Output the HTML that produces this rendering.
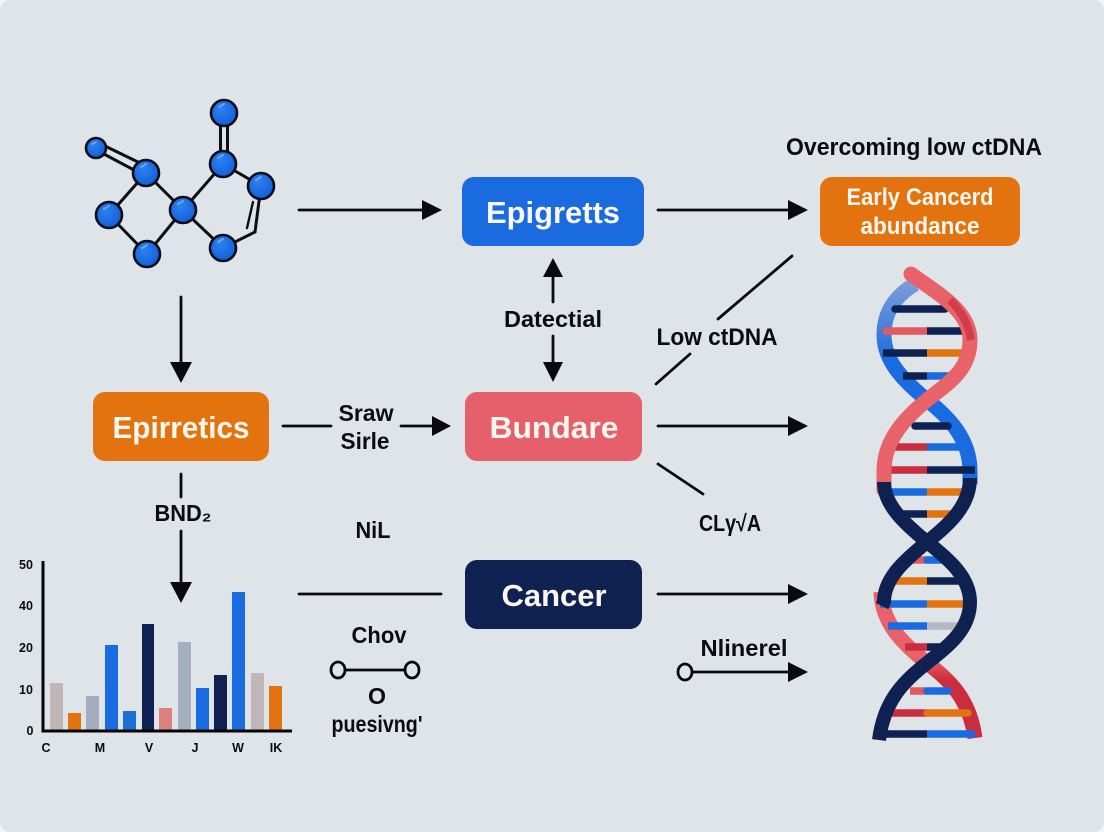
<!DOCTYPE html>
<html><head><meta charset="utf-8"><style>
html,body{margin:0;padding:0;background:#f4f5f6}
svg{display:block}
text{font-family:"Liberation Sans",sans-serif;font-weight:bold;fill:#0c0c10;text-anchor:middle}
.w{fill:#fbf6ee}
</style></head><body>
<svg width="1104" height="832" viewBox="0 0 1104 832" xmlns="http://www.w3.org/2000/svg">
<defs>
<linearGradient id="blueS" gradientUnits="userSpaceOnUse" x1="0" y1="280" x2="0" y2="480"><stop offset="0" stop-color="#7f9fd8"/><stop offset="0.2" stop-color="#4f86dc"/><stop offset="0.4" stop-color="#1b6be0"/><stop offset="1" stop-color="#1b6be0"/></linearGradient>
<linearGradient id="redB" gradientUnits="userSpaceOnUse" x1="0" y1="590" x2="0" y2="740"><stop offset="0" stop-color="#e8626a"/><stop offset="0.45" stop-color="#e8626a"/><stop offset="0.6" stop-color="#c92d3e"/><stop offset="1" stop-color="#c92d3e"/></linearGradient>
<radialGradient id="atom" cx="40%" cy="35%" r="65%"><stop offset="0" stop-color="#2f80ee"/><stop offset="1" stop-color="#1060dc"/></radialGradient>
</defs>
<rect x="0" y="0" width="1104" height="832" rx="10" fill="#dfe4e8"/>

<!-- molecule -->
<g stroke="#0c0f14" stroke-width="3" fill="none" stroke-linecap="round">
<path d="M146 173L109 215L147 254L183 210L146 173M183 210L223 164L261 186M183 210L223 248L255 232L261 186"/>
<path d="M105 146L140 163M102 153L134 170"/>
<path d="M220.5 122V156M227.5 122V156"/>
<path d="M253 202L247 228" stroke-width="2.4"/>
</g>
<g stroke="#0a0f1a" stroke-width="2.6" fill="url(#atom)">
<circle cx="96" cy="148" r="10"/><circle cx="146" cy="173" r="13"/><circle cx="109" cy="215" r="13"/>
<circle cx="147" cy="254" r="13"/><circle cx="183" cy="210" r="13"/><circle cx="223" cy="164" r="13"/>
<circle cx="224" cy="113" r="13"/><circle cx="261" cy="186" r="13"/><circle cx="223" cy="248" r="13"/>
</g>
<g stroke="#7fb0f4" stroke-width="2" fill="none" stroke-linecap="round" opacity=".8">
<path d="M92 144l4-2M141 167l5-3M104 209l5-3M142 248l5-3M178 204l5-3M218 158l5-3M219 107l5-3M256 180l5-3M218 242l5-3"/>
</g>

<!-- boxes -->
<rect x="462" y="177" width="182" height="69" rx="12" fill="#1a6be0"/>
<rect x="820" y="177" width="200" height="69" rx="12" fill="#e3730f"/>
<rect x="93" y="392" width="176" height="69" rx="12" fill="#e3730f"/>
<rect x="465" y="392" width="177" height="69" rx="12" fill="#e5606a"/>
<rect x="465" y="560" width="177" height="69" rx="12" fill="#0f2150"/>
<text class="w" x="553" y="223" font-size="31" textLength="134" lengthAdjust="spacingAndGlyphs">Epigretts</text>
<text class="w" x="181" y="438" font-size="31" textLength="137" lengthAdjust="spacingAndGlyphs">Epirretics</text>
<text class="w" x="554" y="438" font-size="31" textLength="129" lengthAdjust="spacingAndGlyphs">Bundare</text>
<text class="w" x="554" y="606" font-size="31" textLength="105" lengthAdjust="spacingAndGlyphs">Cancer</text>
<text class="w" x="920" y="205" font-size="24" textLength="147" lengthAdjust="spacingAndGlyphs">Early Cancerd</text>
<text class="w" x="920" y="234" font-size="24" textLength="119" lengthAdjust="spacingAndGlyphs">abundance</text>

<!-- connectors -->
<g stroke="#0a0a0e" stroke-width="2.8" fill="none" stroke-linecap="round">
<path d="M299 210H425M658 210H792M181 297V366M283 426H331M401 426H435M553 274V302M553 336V365M658 426H792M181 474V497M181 531V585M299 594H441M658 594H792M692 672H792"/>
<path d="M656 384L690 354M718 319L792 256M658 464L703 494"/>
<path d="M345 670H405"/>
</g>
<g fill="#0a0a0e">
<path d="M422 200L442 210L422 220Z"/><path d="M788 200L808 210L788 220Z"/>
<path d="M170 362L192 362L181 383Z"/><path d="M432 416L451 426L432 436Z"/>
<path d="M543 277L553 258L563 277Z"/><path d="M543 362L563 362L553 382Z"/>
<path d="M788 416L808 426L788 436Z"/><path d="M170 582L192 582L181 603Z"/>
<path d="M788 584L808 594L788 604Z"/><path d="M788 662L808 672L788 682Z"/>
</g>
<g fill="none" stroke="#0a0a0e" stroke-width="2.8">
<ellipse cx="338" cy="670" rx="7" ry="8"/><ellipse cx="412" cy="670" rx="7" ry="8"/>
<ellipse cx="685" cy="672" rx="7" ry="8"/>
</g>

<!-- labels -->
<text x="914" y="155" font-size="24" textLength="256" lengthAdjust="spacingAndGlyphs">Overcoming low ctDNA</text>
<text x="553" y="327" font-size="23" textLength="98" lengthAdjust="spacingAndGlyphs">Datectial</text>
<text x="717" y="345" font-size="24" textLength="121" lengthAdjust="spacingAndGlyphs">Low ctDNA</text>
<text x="366" y="421" font-size="23" textLength="55" lengthAdjust="spacingAndGlyphs">Sraw</text>
<text x="365" y="449" font-size="23" textLength="49" lengthAdjust="spacingAndGlyphs">Sirle</text>
<text x="183" y="521" font-size="23" textLength="57" lengthAdjust="spacingAndGlyphs">BND₂</text>
<text x="373" y="538" font-size="23" textLength="35" lengthAdjust="spacingAndGlyphs">NiL</text>
<text x="730" y="531" font-size="23" textLength="62" lengthAdjust="spacingAndGlyphs">CLγ√A</text>
<text x="379" y="643" font-size="23" textLength="55" lengthAdjust="spacingAndGlyphs">Chov</text>
<text x="377" y="704" font-size="23" textLength="18" lengthAdjust="spacingAndGlyphs">O</text>
<text x="377" y="732" font-size="23" textLength="91" lengthAdjust="spacingAndGlyphs">puesivng'</text>
<text x="744" y="656" font-size="23" textLength="87" lengthAdjust="spacingAndGlyphs">Nlinerel</text>

<!-- chart -->
<g>
<rect x="50" y="683" width="13" height="48" fill="#c0b6b8"/>
<rect x="68" y="713" width="13" height="18" fill="#e3730f"/>
<rect x="86" y="696" width="13" height="35" fill="#a4adbf"/>
<rect x="105" y="645" width="13" height="86" fill="#1a6ce0"/>
<rect x="123" y="711" width="13" height="20" fill="#1c6fd6"/>
<rect x="142" y="624" width="12" height="107" fill="#0f2150"/>
<rect x="159" y="708" width="13" height="23" fill="#dc8080"/>
<rect x="178" y="642" width="13" height="89" fill="#a6aec2"/>
<rect x="196" y="688" width="13" height="43" fill="#1a6ce0"/>
<rect x="214" y="675" width="13" height="56" fill="#0f2150"/>
<rect x="232" y="592" width="13" height="139" fill="#1a6ce0"/>
<rect x="251" y="673" width="13" height="58" fill="#c0b6b8"/>
<rect x="269" y="686" width="13" height="45" fill="#e3730f"/>
</g>
<path d="M43 561V731H292" stroke="#050505" stroke-width="3" fill="none"/>
<g font-size="12.5">
<text x="26" y="569">50</text><text x="26" y="610">40</text><text x="26" y="652">20</text><text x="26" y="694">10</text><text x="30" y="735">0</text>
<text x="46" y="752">C</text><text x="100" y="752">M</text><text x="149" y="752">V</text><text x="195" y="752">J</text><text x="238" y="752">W</text><text x="276" y="752">IK</text>
</g>

<!-- helix: strands behind -->
<g fill="none" stroke-linecap="butt">
<path d="M915 284C895 296 884 312 884 335C884 362 905 382 927 400C950 418 970 440 970 471L970 484" stroke="url(#blueS)" stroke-width="15"/>
<path d="M881 592C882 625 905 645 927 663C950 680 970 700 975 738" stroke="url(#redB)" stroke-width="15"/>
</g>
<!-- rungs -->
<g stroke-width="7.5">
<path d="M895 309H945" stroke="#0f2150" stroke-linecap="round"/>
<path d="M883 331H927" stroke="#e2595f"/><path d="M927 331H972" stroke="#0f2150"/>
<path d="M883 353H927" stroke="#0f2150"/><path d="M927 353H975" stroke="#e3730f"/>
<path d="M903 376H927" stroke="#0f2150"/><path d="M927 376H957" stroke="#1a6be0"/>
<path d="M915 426H948" stroke="#0f2150" stroke-linecap="round"/>
<path d="M895 447H927" stroke="#c92d3e"/><path d="M927 447H968" stroke="#1a6be0"/>
<path d="M883 470H927" stroke="#c92d3e"/><path d="M927 470H975" stroke="#0f2150"/>
<path d="M880 492H927" stroke="#1a6be0"/><path d="M927 492H970" stroke="#e3730f"/>
<path d="M898 514H927" stroke="#0f2150"/><path d="M927 514H950" stroke="#e3730f"/>
<path d="M912 560H927" stroke="#e2595f"/><path d="M927 560H948" stroke="#1a6be0" stroke-linecap="round"/>
<path d="M890 581H927" stroke="#e3730f"/><path d="M927 581H960" stroke="#0f2150"/>
<path d="M880 604H927" stroke="#1a6be0"/><path d="M927 604H975" stroke="#e3730f"/>
<path d="M888 626H927" stroke="#1a6be0"/><path d="M927 626H965" stroke="#b5b8c2"/>
<path d="M905 647H927" stroke="#c92d3e"/><path d="M927 647H950" stroke="#0f2150"/>
<path d="M910 691H927" stroke="#e2595f"/><path d="M927 691H948" stroke="#1a6be0" stroke-linecap="round"/>
<path d="M888 713H927" stroke="#c92d3e"/><path d="M927 713H968" stroke="#e3730f" stroke-linecap="round"/>
<path d="M878 734H927" stroke="#0f2150"/><path d="M927 734H975" stroke="#1a6be0"/>
</g>
<!-- strands front -->
<g fill="none">
<path d="M911 274C935 292 970 310 970 340C970 372 945 385 927 400C905 418 884 440 884 471L884 490" stroke="#e8626a" stroke-width="15" stroke-linecap="round"/>
<path d="M950 300C960 310 968 322 971 340" stroke="#c92d3e" stroke-width="8" fill="none" opacity=".7"/>
<path d="M884 482C884 505 905 524 927 542C950 560 970 578 970 602C970 630 948 646 927 663C905 680 884 700 879 740" stroke="#0f2150" stroke-width="14"/>
<path d="M970 478C970 505 950 524 927 542C905 560 884 578 884 602L882 606" stroke="#0f2150" stroke-width="14"/>
</g>
</svg>
</body></html>
